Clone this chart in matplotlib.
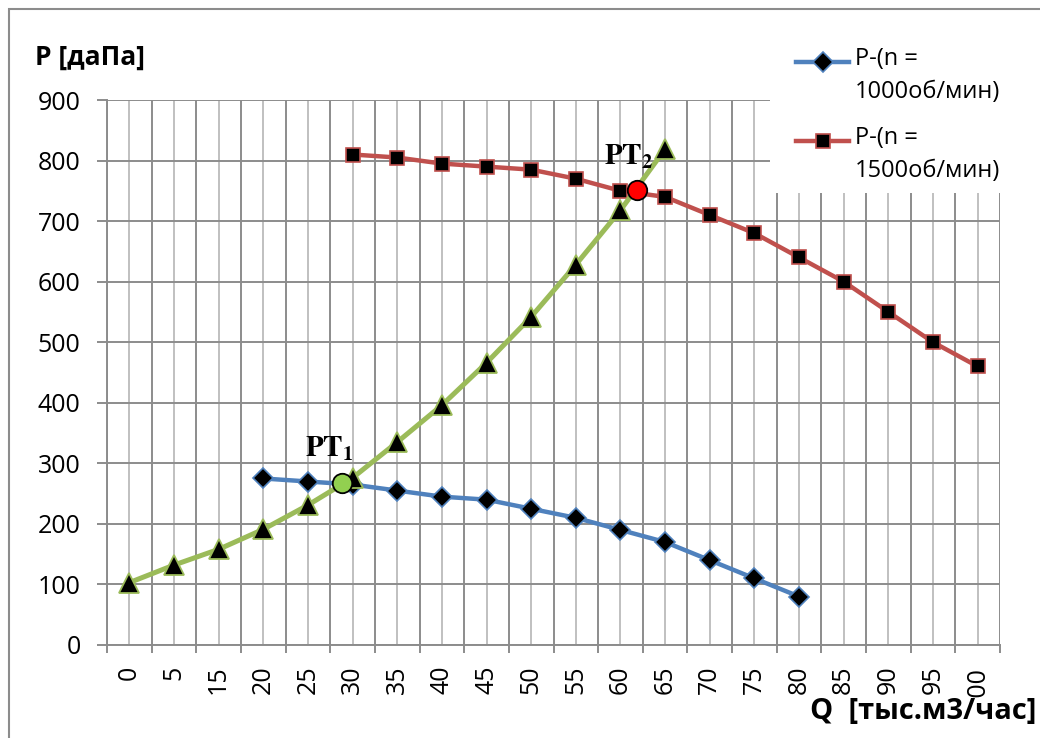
import numpy as np
import matplotlib
matplotlib.use('Agg')
import matplotlib.pyplot as plt
from matplotlib.lines import Line2D
from matplotlib.patches import Rectangle

plt.rcParams['font.family'] = ['Open Sans', 'DejaVu Sans']
plt.rcParams['mathtext.fontset'] = 'stix'

# Q axis categories, as printed on the original chart
qLabels = ['0', '5', '15', '20', '25', '30', '35', '40', '45', '50',
           '55', '60', '65', '70', '75', '80', '85', '90', '95', '100']

# Fan curve, n = 1000 rpm (starts at the 4th category)
p1000Start = 3
p1000 = [275, 270, 265, 255, 245, 240, 225, 210, 190, 170, 140, 110, 80]

# Fan curve, n = 1500 rpm (starts at the 6th category)
p1500Start = 5
p1500 = [810, 805, 795, 790, 785, 770, 750, 740, 710, 680, 640, 600, 550, 500, 460]

# Network characteristic
pNet = [103, 132, 158, 191, 231, 276, 335, 396, 466, 542, 628, 718, 819]

# Working points (category position, pressure)
workX = [4.77, 11.38]
workY = [267, 751]
workColors = ['#92D050', '#FF0000']

W, H = 1040, 738
BLUE = '#4F81BD'
RED = '#C0504D'
GREEN = '#9BBB59'
GRID_DARK = '#8C8C8C'
GRID_LIGHT = '#C0C0C0'


def genPlot():
    fig = plt.figure(figsize=(W / 100, H / 100), dpi=100)
    ax = fig.add_axes([107 / W, 1 - 645 / H, 893 / W, 545 / H])

    # grid: dark lines on category borders, light lines through category centres
    ax.set_xlim(-0.5, len(qLabels) - 0.5)
    ax.set_ylim(0, 900)
    ax.set_xticks(np.arange(len(qLabels)))
    ax.set_xticklabels(qLabels, rotation=90, fontsize=18)
    ax.set_xticks(np.arange(-0.5, len(qLabels)), minor=True)
    ax.set_yticks(np.arange(0, 901, 100))
    ax.tick_params(axis='y', labelsize=18, length=7, width=1.4, color=GRID_DARK, pad=12)
    ax.tick_params(axis='x', which='major', length=0, pad=15)
    ax.tick_params(axis='x', which='minor', length=6, width=1.4, color=GRID_DARK)
    ax.grid(axis='x', which='major', color=GRID_LIGHT, lw=1.4, zorder=0)
    ax.grid(axis='x', which='minor', color=GRID_DARK, lw=1.4, zorder=0)
    ax.grid(axis='y', which='major', color=GRID_DARK, lw=1.4, zorder=0)
    ax.set_axisbelow(True)
    for side in ['top', 'right']:
        ax.spines[side].set_visible(False)
    for side in ['left', 'bottom']:
        ax.spines[side].set_color(GRID_DARK)
        ax.spines[side].set_linewidth(1.4)

    # curves
    x1000 = np.arange(len(p1000)) + p1000Start
    x1500 = np.arange(len(p1500)) + p1500Start
    xNet = np.arange(len(pNet))
    ax.plot(x1000, p1000, color=BLUE, lw=3.2, marker='D', ms=10,
            mfc='black', mec=BLUE, mew=1.2, zorder=3)
    ax.plot(x1500, p1500, color=RED, lw=3.2, marker='s', ms=10,
            mfc='black', mec=RED, mew=1.2, zorder=3)
    ax.plot(xNet, pNet, color=GREEN, lw=3.6, marker='^', ms=14,
            mfc='black', mec=GREEN, mew=1.3, zorder=4)

    # working points
    for i in range(len(workX)):
        ax.plot(workX[i], workY[i], marker='o', ms=14, mfc=workColors[i],
                mec='black', mew=1.3, ls='none', zorder=5)
    ax.text(3.94, 310, r'$\mathbf{PT_1}$', fontsize=21, va='baseline', zorder=6)
    ax.text(10.62, 793, r'$\mathbf{PT_2}$', fontsize=21, va='baseline', zorder=6)

    # axis titles
    fig.text(35 / W, 1 - 57 / H, 'P [даПа]', fontsize=19, fontweight='bold',
             ha='left', va='center')
    fig.text(1036 / W, 1 - 712 / H, 'Q  [тыс.м3/час]', fontsize=21, fontweight='bold',
             ha='right', va='center', zorder=6,
             bbox=dict(facecolor='white', edgecolor='none', pad=0))

    # legend drawn by hand, it sits over the plot area
    fig.add_artist(Rectangle((770 / W, 1 - 193 / H), 270 / W, 163 / H,
                             transform=fig.transFigure, fc='white', ec='none', zorder=5))
    legendItems = [(BLUE, 'D', 'P-(n =\n1000об/мин)', 62),
                   (RED, 's', 'P-(n =\n1500об/мин)', 141)]
    for color, mk, label, yPix in legendItems:
        fig.add_artist(Line2D([796 / W, 849 / W], [1 - yPix / H] * 2,
                              transform=fig.transFigure, color=color, lw=3.2, zorder=6))
        fig.add_artist(Line2D([823 / W], [1 - yPix / H], transform=fig.transFigure,
                              marker=mk, ms=10, mfc='black', mec=color, mew=1.2, zorder=7))
        fig.text(855 / W, 1 - (yPix - 15) / H, label, fontsize=17, linespacing=1.5,
                 ha='left', va='top', zorder=7)

    # chart border
    fig.add_artist(Rectangle((9 / W, -0.05), 1.0, 1 - 9 / H + 0.05,
                             transform=fig.transFigure, fill=False,
                             ec=GRID_DARK, lw=1.5, zorder=8))

    fig.savefig('out.png', dpi=100)


def main():
    genPlot()


main()
